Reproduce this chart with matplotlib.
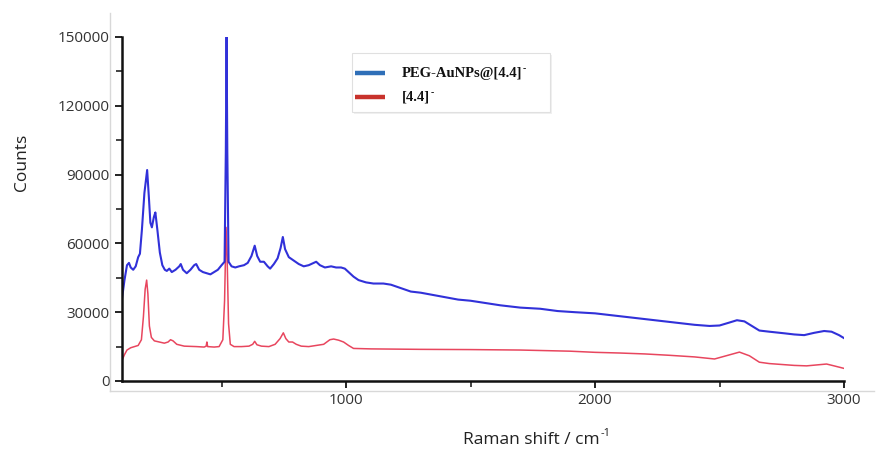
import numpy as np
import matplotlib.pyplot as plt
from matplotlib.lines import Line2D
from matplotlib.patches import Rectangle

plt.rcParams['font.family'] = ['Open Sans', 'DejaVu Sans']

# PEG-AuNPs@[4.4]- spectrum (Raman shift in cm-1, counts)
peg_shift = [100, 110, 120, 128, 135, 145, 155, 165, 172, 180, 190, 201, 208, 214, 220,
             228, 234, 242, 252, 262, 272, 280, 290, 300, 315, 330, 336, 345, 360, 375,
             390, 398, 410, 425, 440, 455, 470, 485, 500, 512, 517, 520, 523, 528, 540,
             555, 570, 590, 605, 620, 633, 643, 655, 670, 685, 695, 710, 725, 737, 746,
             755, 770, 790, 810, 830, 850, 870, 880, 895, 915, 940, 960, 980, 995, 1010,
             1030, 1050, 1080, 1110, 1150, 1180, 1220, 1260, 1300, 1350, 1400, 1450, 1500,
             1560, 1620, 1700, 1780, 1850, 1920, 2000, 2080, 2160, 2240, 2320, 2400, 2460,
             2500, 2540, 2570, 2600, 2630, 2660, 2700, 2760, 2800, 2840, 2880, 2920, 2950,
             2980, 3000]
peg_counts = [36000, 44000, 50500, 51500, 49500, 48500, 50000, 54000, 55500, 66000, 82000,
              92000, 80000, 69000, 67000, 71500, 73500, 66000, 56000, 50500, 48500, 48000,
              49000, 47500, 48500, 50000, 51000, 48500, 47000, 48500, 50500, 51000, 48500,
              47500, 47000, 46500, 47500, 48500, 50500, 52000, 100000, 150000, 100000,
              52000, 50000, 49500, 50000, 50500, 51500, 54500, 59000, 54500, 52000, 52000,
              50000, 49000, 51000, 53500, 58000, 62800, 57500, 54000, 52500, 51000, 50000,
              50500, 51500, 52000, 50500, 49500, 50000, 49500, 49500, 49000, 47500, 45500,
              44000, 43000, 42500, 42500, 42000, 40500, 39000, 38500, 37500, 36500, 35500,
              35000, 34000, 33000, 32000, 31500, 30500, 30000, 29500, 28500, 27500, 26500,
              25500, 24500, 24000, 24200, 25500, 26500, 26000, 24000, 22000, 21500, 20800,
              20300, 20000, 21000, 21800, 21500, 20000, 18700]

# [4.4]- spectrum
ref_shift = [100, 110, 120, 135, 150, 165, 178, 186, 193, 199, 204, 210, 218, 230, 250,
             270, 285, 295, 305, 320, 350, 400, 430, 438, 441, 444, 470, 490, 505, 512,
             518, 522, 528, 535, 550, 580, 610, 625, 633, 642, 660, 690, 715, 735, 748,
             758, 770, 785, 800, 820, 850, 880, 910, 935, 950, 970, 990, 1010, 1030, 1100,
             1300, 1500, 1700, 1900, 2000, 2100, 2200, 2300, 2400, 2480, 2520, 2580, 2620,
             2660, 2700, 2800, 2850, 2900, 2930, 2960, 3000]
ref_counts = [9000, 11500, 13500, 14500, 15000, 15500, 18000, 28000, 40000, 44000, 38000,
              24000, 19000, 17500, 17000, 16500, 17000, 18000, 17500, 16000, 15200, 15000,
              14800, 15200, 17000, 15000, 14800, 15000, 18000, 35000, 67000, 55000, 25000,
              16000, 15000, 15000, 15200, 16000, 17300, 15800, 15200, 15000, 16000, 18500,
              21000, 18500, 17000, 17000, 16000, 15200, 15000, 15500, 16000, 18000, 18300,
              17800, 17000, 15500, 14200, 14000, 13800, 13700, 13500, 13000, 12500, 12200,
              11800, 11200, 10500, 9600, 10800, 12600, 11000, 8200, 7600, 6800, 6600, 7100,
              7400, 6600, 5500]

legend_labels = ['PEG-AuNPs@[4.4]', '[4.4]']

W, H = 876, 453
fig = plt.figure(figsize=(W / 100, H / 100), dpi=100)
ax = fig.add_axes([122 / W, (H - 381) / H, (844 - 122) / W, (381 - 37) / H])

ax.plot(ref_shift, ref_counts, color='#e8465e', lw=1.1)
ax.plot(peg_shift, peg_counts, color='#1f1fd6', lw=1.5, alpha=0.92)

ax.set_xlim(100, 3000)
ax.set_ylim(0, 150000)
ax.set_xticks([1000, 2000, 3000])
ax.set_xticks([500, 1500, 2500], minor=True)
ax.set_yticks(np.arange(0, 150001, 30000))
ax.set_yticks(np.arange(15000, 150000, 30000), minor=True)

for s in ['top', 'right']:
    ax.spines[s].set_visible(False)
for s in ['left', 'bottom']:
    ax.spines[s].set_linewidth(1.8)
    ax.spines[s].set_color('#111111')

ax.tick_params(axis='both', which='major', length=5, width=1.3, color='#111111',
               labelsize=11, labelcolor='#333333', pad=4)
ax.tick_params(axis='both', which='minor', length=4, width=1.1, color='#111111')

# light outer frame around the plot area
fig.add_artist(Line2D([110 / W, 110 / W], [(H - 391) / H, (H - 13) / H],
                      color='#d8d8d8', lw=1.0))
fig.add_artist(Line2D([110 / W, 874 / W], [(H - 391) / H, (H - 391) / H],
                      color='#d8d8d8', lw=1.0))

renderer = fig.canvas.get_renderer()

fig.text(22 / W, (H - 162) / H, 'Counts', rotation=90, ha='center', va='center',
         fontsize=12.5, color='#222222')
xl = fig.text(463 / W, (H - 440) / H, 'Raman shift / cm', ha='left', va='center',
              fontsize=12.5, color='#222222')
fig.text((xl.get_window_extent(renderer).x1 + 0.5) / W, (H - 434) / H, '-1',
         ha='left', va='center', fontsize=8, color='#222222')

# legend box
fig.add_artist(Rectangle((354 / W, (H - 114) / H), 198 / W, 59 / H, facecolor='#e6e6e6',
                         edgecolor='none', alpha=0.6))
fig.add_artist(Rectangle((352 / W, (H - 112) / H), 198 / W, 59 / H, facecolor='white',
                         edgecolor='#e0e0e0', lw=0.8))
for i, (lab, col) in enumerate(zip(legend_labels, ['#2f6fb8', '#c8322c'])):
    yy = (H - (73 + 24 * i)) / H
    fig.add_artist(Line2D([355 / W, 385 / W], [yy, yy], color=col, lw=3.2,
                          solid_capstyle='butt'))
    t = fig.text(402 / W, yy, lab, ha='left', va='center', fontsize=10.5,
                 family=['Liberation Serif'], weight='bold', color='#111111')
    # small superscript hyphen after the label
    x1 = t.get_window_extent(renderer).x1
    fig.text((x1 + 0.5) / W, yy + 4 / H, '-', ha='left', va='center', fontsize=7,
             family=['Liberation Serif'], weight='bold', color='#111111')

fig.savefig('out.png', dpi=100, facecolor='white')
